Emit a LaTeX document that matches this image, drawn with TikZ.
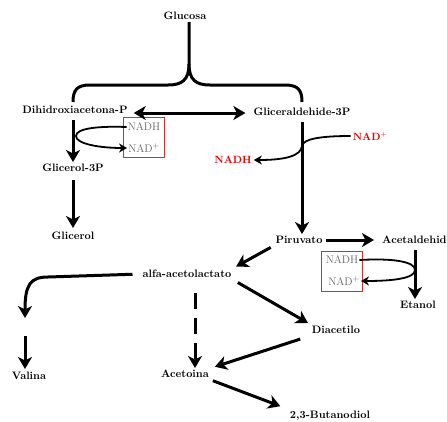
\documentclass[tikz,border=0pt]{standalone}
\usetikzlibrary{arrows.meta}
\definecolor{boxred}{RGB}{225,40,40}
\definecolor{txtred}{RGB}{230,0,0}
\definecolor{txtgray}{RGB}{100,100,100}
\begin{document}
\begin{tikzpicture}[x=1pt,y=-1pt,
  lbl/.style={font=\fontsize{10.8}{12}\selectfont\bfseries, inner sep=2pt},
  cof/.style={font=\fontsize{11}{13}\selectfont, text=txtgray, inner sep=1pt},
  redcof/.style={font=\fontsize{10.5}{12}\selectfont\bfseries, text=txtred, inner sep=2pt},
  cofbox/.style={draw=boxred, line width=0.9pt, minimum width=41pt, minimum height=40pt, inner sep=0pt},
  arr/.style={line width=3pt, -{Stealth[length=12pt,width=14pt,inset=3.5pt]}},
  twoway/.style={line width=3pt, {Stealth[length=12pt,width=14pt,inset=3.5pt]}-{Stealth[length=12pt,width=14pt,inset=3.5pt]}},
  side/.style={line width=1.8pt, -{Stealth[length=8pt,width=9pt,inset=2.5pt]}},
  brace/.style={line width=3pt}]
\useasboundingbox (0,0) rectangle (447,421);

% metabolites
\node[lbl] (glu)  at (185,16)  {Glucosa};
\node[lbl] (dhap) at (75,110)  {Dihidroxiacetona-P};
\node[lbl] (gap)  at (302,112) {Gliceraldehide-3P};
\node[lbl] (g3p)  at (73,168)  {Glicerol-3P};
\node[lbl] (gly)  at (73,236)  {Glicerol};
\node[lbl] (piru) at (299,240) {Piruvato};
\begin{scope}
  \clip (0,0) rectangle (447,421);
  \node[lbl, anchor=west] (acal) at (380,240) {Acetaldehido};
\end{scope}
\node[lbl] (etoh) at (418,305) {Etanol};
\node[lbl] (alfa) at (187,274) {alfa-acetolactato};
\node[lbl] (diac) at (336,330) {Diacetilo};
\node[lbl] (acet) at (185,374) {Acetoina};
\node[lbl] (val)  at (29,376)  {Valina};
\node[lbl] (buta) at (330,416) {2,3-Butanodiol};

% cofactors
\node[cofbox] (boxL) at (144,137) {};
\node[cof] (nadhL) at (144,127) {NADH};
\node[cof] (nadL)  at (144,148) {NAD$^{+}$};
\node[cofbox] (boxR) at (342,271) {};
\node[cof] (nadhR) at (342,260) {NADH};
\node[cof] (nadR)  at (344,281) {NAD$^{+}$};
\node[redcof] (nadRed)  at (370,136) {NAD$^{+}$};
\node[redcof] (nadhRed) at (233,160) {NADH};

% glucose splits into the two trioses
\draw[brace] (glu.south -| 189,0) -- (189,64)
  .. controls (189,80) and (182,85) .. (168,85) -- (90,85)
  .. controls (77,85) and (73,90) .. (73,102);
\draw[brace] (189,64)
  .. controls (189,80) and (196,85) .. (210,85) -- (285,85)
  .. controls (298,85) and (302,90) .. (302,102);

% main pathway
\draw[twoway] ([xshift=4pt]dhap.east |- 0,113) -- ([xshift=-6pt]gap.west |- 0,113);
\draw[arr, shorten <=4pt] (dhap.south -| 73,0) -- (g3p.north);
\draw[arr, shorten <=6pt, shorten >=2pt] (g3p) -- (gly);
\draw[arr, shorten <=4pt] (gap.south) -- (piru.north -| gap.south);
\draw[arr, shorten <=1pt, shorten >=6pt] (piru.east) -- (acal.west);
\draw[arr, shorten <=4pt] (acal.south -| 415,0) -- (etoh.north -| 415,0);
\draw[arr, shorten <=3pt, shorten >=3pt] (piru.south west) -- (alfa.north east);
\draw[arr, shorten <=5pt, shorten >=2pt] (alfa.south east) -- (diac.north west);
\draw[arr, shorten <=10pt, shorten >=4pt] (diac.south west) -- (acet.north east);
\draw[arr, shorten <=2pt, shorten >=8pt] (acet.south east) -- (buta.north west);
\draw[arr, dash pattern=on 16pt off 9pt] (195,293) -- (acet.north -| 195,0);

% branch towards valine
\coordinate (vA) at (25,318);
\coordinate (vB) at (25,336);
\draw[arr, shorten <=8pt] (alfa.west) -- (48,277) .. controls (30,277) and (25,285) .. (vA);
\draw[arr, shorten >=1pt] (vB) -- (val.north -| vB);

% cofactor loops
\draw[side] (nadhL.west) .. controls (100,126) and (76,128) .. (76,136)
  .. controls (76,144) and (100,148) .. (nadL.west);
\draw[side] (nadhR.east) .. controls (395,258) and (415,262) .. (415,270)
  .. controls (415,278) and (395,281) .. (nadR.east);
\draw[side] (nadRed.west) .. controls (320,136) and (303,139) .. (302,146)
  .. controls (301,156) and (285,160) .. (nadhRed.east);
\end{tikzpicture}
\end{document}
